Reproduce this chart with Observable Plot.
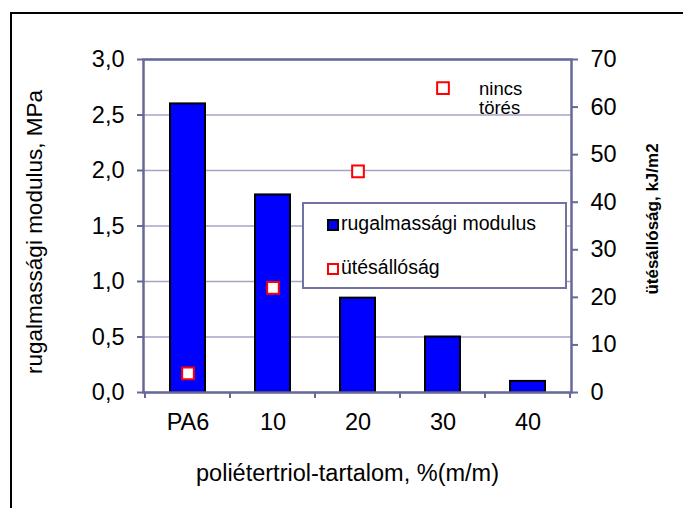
<!DOCTYPE html>
<html>
<head>
<meta charset="utf-8">
<script src="https://cdn.jsdelivr.net/npm/d3@7"></script>
<script src="https://cdn.jsdelivr.net/npm/@observablehq/plot@0.6"></script>
<style>
  body { margin: 0; background: #fff; font-family: "Liberation Sans", Arial, sans-serif; }
  #wrap { position: relative; width: 683px; height: 508px; overflow: hidden; background: #fff; }
  #wrap svg { position: absolute; left: 0; top: 0; }
  #border { position: absolute; left: 10px; top: 12px; width: 720px; height: 540px; border-left: 2px solid #000; border-top: 2px solid #000; box-sizing: border-box; }
  #legend { position: absolute; left: 302px; top: 202px; width: 265px; height: 87px; border: 2px solid #7272a2; background: #fff; box-sizing: border-box; }
  .sw { position: absolute; box-sizing: border-box; width: 12px; height: 12px; }
  .lt { position: absolute; font-size: 19.5px; line-height: 1; color: #000; white-space: nowrap; }
</style>
</head>
<body>
<div id="wrap">
  <div id="border"></div>
  <div id="chart"></div>
  <div id="legend"></div>
</div>
<script>
// ---- data ----
const categories = ["PA6", "10", "20", "30", "40"];
const modulus = [2.6, 1.78, 0.85, 0.5, 0.1];          // rugalmassági modulus, MPa
const impact = [4, 22, 46.5, 64, null];               // ütésállóság, kJ/m2
const leftTicks = [0, 0.5, 1, 1.5, 2, 2.5, 3];
const rightTicks = [0, 10, 20, 30, 40, 50, 60, 70];
const annotationCats = ["30"];
const annotationTexts = ["nincs\ntörés"];
const seriesNames = ["rugalmassági modulus", "ütésállóság"];
const xTitle = "poliétertriol-tartalom, %(m/m)";
const yTitle = "rugalmassági modulus, MPa";
const y2Title = "ütésállóság, kJ/m2";

const leftMax = leftTicks[leftTicks.length - 1];
const rightMax = rightTicks[rightTicks.length - 1];
const k = leftMax / rightMax;

const rows = categories.map((c, i) => ({cat: c, modulus: modulus[i], impact: impact[i]}));
const notes = annotationCats.map((c, i) => ({cat: c, text: annotationTexts[i], impact: impact[categories.indexOf(c)]}));

const axisColor = "#686898";
const gridColor = "#a4a4c8";
const font = "Liberation Sans, Arial, sans-serif";
const tickFont = 23.5;

// boundary ticks below the category axis
function xBoundaryTicks(index, scales, values, dims) {
  const x = scales.x;
  const bw = typeof x.bandwidth === "function" ? x.bandwidth() : x.bandwidth;
  const y0 = dims.height - dims.marginBottom;
  const xs = categories.map(c => x(c));
  xs.push(x(categories[categories.length - 1]) + bw);
  const g = d3.create("svg:g");
  g.selectAll("line").data(xs).join("line")
    .attr("x1", d => d).attr("x2", d => d)
    .attr("y1", y0).attr("y2", y0 + 6)
    .attr("stroke", axisColor).attr("stroke-width", 2);
  return g.node();
}

const plot = Plot.plot({
  width: 683,
  height: 508,
  marginLeft: 143,
  marginRight: 112,
  marginTop: 59,
  marginBottom: 116,
  style: {fontFamily: font, fontSize: "22px", color: "#000", background: "transparent", overflow: "visible"},
  x: {domain: categories, padding: 0, axis: null, label: null},
  y: {domain: [0, leftMax], axis: null, label: null},
  marks: [
    Plot.gridY(leftTicks, {stroke: gridColor, strokeOpacity: 1, strokeWidth: 1.3}),
    Plot.barY(rows, {x: "cat", y: "modulus", fill: "#0000ff", stroke: "#000", strokeWidth: 2, insetLeft: 25, insetRight: 25}),
    Plot.frame({stroke: axisColor, strokeWidth: 2.5}),
    xBoundaryTicks,
    Plot.axisX(categories, {anchor: "bottom", label: null, tickSize: 0, tickPadding: 21, fontSize: tickFont, fill: "#000"}),
    Plot.axisY(leftTicks, {anchor: "left", label: null, tickSize: 6, tickPadding: 13, stroke: axisColor, strokeWidth: 2, fill: "#000", fontSize: tickFont,
      tickFormat: d => d.toFixed(1).replace(".", ",")}),
    Plot.axisY(rightTicks.map(v => v * k), {anchor: "right", label: null, tickSize: 6, tickPadding: 13, stroke: axisColor, strokeWidth: 2, fill: "#000", fontSize: tickFont,
      tickFormat: d => String(Math.round(d / k))}),
    Plot.dot(rows.filter(d => d.impact != null), {x: "cat", y: d => d.impact * k, symbol: "square", r: 6.6, fill: "#fff", stroke: "#ff0000", strokeWidth: 2}),
    Plot.text(notes, {x: "cat", y: d => d.impact * k, text: "text", textAnchor: "start", lineAnchor: "middle", dx: 36, dy: 10, fontSize: 18.5, lineHeight: 1.05, fill: "#000"}),
    Plot.text([xTitle], {frameAnchor: "bottom", text: d => d, textAnchor: "middle", lineAnchor: "bottom", dy: 88, dx: -10, fontSize: tickFont, fill: "#000"}),
    Plot.text([yTitle], {frameAnchor: "left", text: d => d, textAnchor: "middle", rotate: -90, lineAnchor: "bottom", dx: -102, dy: 6, fontSize: 22.5, fill: "#000"}),
    Plot.text([y2Title], {frameAnchor: "right", text: d => d, textAnchor: "middle", rotate: -90, lineAnchor: "bottom", dx: 86, dy: -7, fontSize: 17, fontWeight: "bold", fill: "#000"})
  ]
});
document.getElementById("chart").appendChild(plot);

// legend (overlaid box inside the plot area, as in the reference)
const legend = document.getElementById("legend");
const swatchStyles = [
  {background: "#0000ff", border: "2px solid #000"},
  {background: "#fff", border: "2px solid #ff0000"}
];
seriesNames.forEach((name, i) => {
  const sw = document.createElement("div");
  sw.className = "sw";
  sw.style.left = "23px";
  sw.style.top = (15 + i * 44) + "px";
  Object.assign(sw.style, swatchStyles[i]);
  legend.appendChild(sw);
  const t = document.createElement("div");
  t.className = "lt";
  t.style.left = "37px";
  t.style.top = (10 + i * 44) + "px";
  t.textContent = name;
  legend.appendChild(t);
});
</script>
</body>
</html>
